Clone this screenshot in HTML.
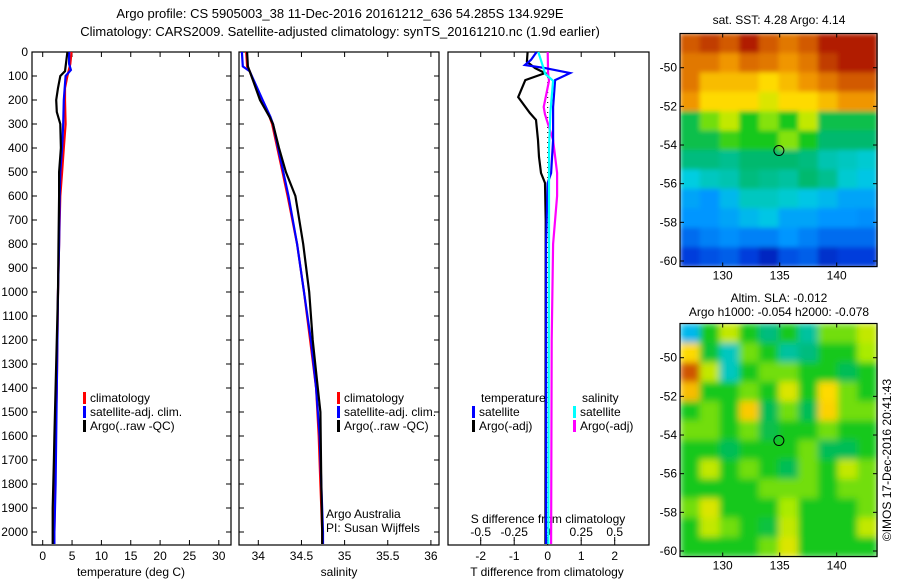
<!DOCTYPE html>
<html><head><meta charset="utf-8">
<style>
html,body{margin:0;padding:0;background:#fff;}
svg{display:block;font-family:"Liberation Sans",Arial,sans-serif;}
text{font-size:12px;fill:#000;}
</style></head>
<body>
<svg id="chart" width="900" height="580" viewBox="0 0 900 580" xmlns="http://www.w3.org/2000/svg">
<defs>
<filter id="blurSst" x="0" y="0" width="1" height="1"><feGaussianBlur stdDeviation="2.5" edgeMode="duplicate"/></filter>
<filter id="blurSla" x="0" y="0" width="1" height="1"><feGaussianBlur stdDeviation="3.5" edgeMode="duplicate"/></filter>
</defs>
<text x="340" y="18" text-anchor="middle" style="font-size:13px">Argo profile: CS 5905003_38 11-Dec-2016 20161212_636 54.285S 134.929E</text>
<text x="340" y="36" text-anchor="middle" style="font-size:13px">Climatology: CARS2009. Satellite-adjusted climatology: synTS_20161210.nc (1.9d earlier)</text>
<g id="layer"></g>
</svg>
<script>
// ---------- data ----------
const depthTicks=[0,100,200,300,400,500,600,700,800,900,1000,1100,1200,1300,1400,1500,1600,1700,1800,1900,2000];
const tempTicks=[0,5,10,15,20,25,30];
const salTicks=[34,34.5,35,35.5,36];
const tdiffTicks=[-2,-1,0,1,2];
const sdiffTicks=[-0.5,-0.25,0,0.25,0.5];
const sdiffTickLabels=["-0.5","-0.25","0","0.25","0.5"];
const lonTicks=[130,135,140];
const latTicks=[-50,-52,-54,-56,-58,-60];

const tClimDepth=[0,50,100,150,200,300,400,500,600,800,1000,1200,1400,1600,1800,2000,2050];
const tClim=[4.9,4.7,4.2,3.8,3.8,3.9,3.6,3.3,3.0,2.8,2.6,2.5,2.4,2.2,2.1,2.0,1.9];
const tSatDepth=[0,50,75,100,200,300,400,500,600,800,1000,1200,1400,1600,1800,2000,2050];
const tSat=[4.5,4.5,4.8,3.9,3.6,3.5,3.3,3.0,2.9,2.8,2.6,2.5,2.4,2.3,2.2,2.0,2.0];
const tArgoDepth=[0,80,100,150,200,250,300,400,500,600,800,1000,1200,1400,1600,1700,1800,1900,2000,2050];
const tArgo=[4.2,3.8,3.0,2.6,2.3,2.4,3.0,3.1,2.8,2.8,2.7,2.6,2.4,2.2,2.0,1.9,1.8,1.7,1.7,1.7];

const sClimDepth=[0,60,80,200,270,300,400,500,600,800,1000,1200,1400,1600,1800,2000,2050];
const sClim=[33.86,33.87,33.9,34.03,34.13,34.16,34.22,34.28,34.34,34.45,34.53,34.6,34.67,34.7,34.72,34.74,34.74];
const sSatDepth=[0,60,80,200,270,300,400,500,600,800,1000,1200,1400,1600,1800,2000,2050];
const sSat=[33.81,33.82,33.9,34.05,34.14,34.17,34.23,34.29,34.35,34.45,34.53,34.61,34.67,34.71,34.73,34.75,34.75];
const sArgoDepth=[0,60,80,200,270,300,400,500,600,800,1000,1200,1400,1500,1800,2000,2050];
const sArgo=[33.87,33.88,33.9,34.02,34.13,34.17,34.24,34.32,34.43,34.52,34.59,34.63,34.69,34.72,34.73,34.74,34.74];

const dTArgoDepth=[0,40,67,88,117,188,254,283,367,437,504,546,700,2050];
const dTArgo=[-0.6,-0.62,-0.38,-0.08,-0.67,-0.88,-0.53,-0.35,-0.29,-0.26,-0.2,-0.08,-0.06,-0.07];
const dTSatDepth=[0,33,54,67,88,117,229,367,504,546,800,2050];
const dTSat=[-0.33,-0.5,-0.68,-0.08,0.67,0.22,0.16,0.16,0.1,0,-0.05,-0.05];
const dSSatDepth=[0,70,90,120,250,400,800,2050];
const dSSat=[-0.07,-0.03,-0.02,0.04,0.02,0.01,0.01,0.005];
const dSArgoDepth=[0,88,120,229,260,367,504,600,800,1200,2050];
const dSArgo=[0,0.003,0.01,-0.03,-0.02,0.04,0.07,0.07,0.04,0.03,0.025];

// SST map (colour index 0..1), rows north->south, cols west->east
const sstGrid=[
[0.85,0.9,0.85,0.95,0.85,0.8,0.85,0.95,0.95,0.95],
[0.8,0.8,0.75,0.82,0.8,0.75,0.8,0.9,0.95,0.95],
[0.8,0.7,0.7,0.7,0.66,0.7,0.75,0.8,0.85,0.85],
[0.75,0.66,0.66,0.66,0.62,0.66,0.66,0.7,0.75,0.75],
[0.46,0.55,0.6,0.5,0.56,0.5,0.6,0.46,0.46,0.46],
[0.46,0.46,0.52,0.5,0.5,0.56,0.5,0.43,0.43,0.43],
[0.42,0.42,0.41,0.43,0.43,0.43,0.42,0.39,0.38,0.37],
[0.36,0.38,0.39,0.42,0.41,0.4,0.43,0.41,0.37,0.35],
[0.3,0.28,0.33,0.38,0.38,0.37,0.35,0.33,0.3,0.3],
[0.28,0.28,0.3,0.33,0.35,0.3,0.3,0.28,0.28,0.27],
[0.22,0.25,0.27,0.25,0.25,0.28,0.25,0.22,0.22,0.22],
[0.15,0.18,0.2,0.15,0.1,0.18,0.2,0.12,0.15,0.15]];
const slaGrid=[
[0.33,0.5,0.6,0.5,0.42,0.5,0.4,0.55,0.55,0.6],
[0.66,0.48,0.38,0.55,0.5,0.4,0.42,0.5,0.5,0.58],
[0.86,0.6,0.38,0.5,0.55,0.55,0.5,0.5,0.45,0.5],
[0.7,0.5,0.5,0.55,0.5,0.62,0.5,0.66,0.55,0.5],
[0.5,0.55,0.5,0.68,0.45,0.55,0.45,0.67,0.55,0.55],
[0.55,0.55,0.5,0.55,0.46,0.5,0.5,0.55,0.5,0.5],
[0.5,0.5,0.45,0.5,0.5,0.5,0.55,0.45,0.45,0.5],
[0.5,0.6,0.5,0.55,0.5,0.45,0.55,0.5,0.6,0.55],
[0.5,0.5,0.5,0.5,0.55,0.55,0.55,0.5,0.55,0.55],
[0.55,0.62,0.5,0.5,0.5,0.58,0.5,0.5,0.5,0.55],
[0.5,0.6,0.55,0.5,0.47,0.6,0.5,0.5,0.5,0.6],
[0.5,0.5,0.5,0.5,0.55,0.62,0.5,0.5,0.5,0.5]];
const floatLon=134.929, floatLat=-54.285;

// ---------- helpers ----------
const NS="http://www.w3.org/2000/svg";
const L=document.getElementById('layer');
function mk(tag,attrs,parent){const e=document.createElementNS(NS,tag);for(const k in attrs)e.setAttribute(k,attrs[k]);(parent||L).appendChild(e);return e;}
function txt(x,y,s,anchor,parent){const t=mk('text',{x:x,y:y,'text-anchor':anchor||'start'},parent);t.textContent=s;return t;}
const yD=d=>52+d*0.24;
const PB=545;
const xT=t=>42.7+t*5.87;
const xS=s=>258.3+(s-34)*86.3;
const xdT=t=>547.7+t*33.5;
const xdS=s=>547.7+s*134;
const xLon=l=>722.7+(l-130)*11.4;
const yLatTop=l=>67.7+(-50-l)*19.33;
const yLatBot=l=>357.7+(-50-l)*19.33;

function line(xs,ds,xf,color,name,w){
  const pts=xs.map((v,i)=>xf(v).toFixed(1)+','+yD(ds[i]).toFixed(1)).join(' ');
  const p=mk('polyline',{points:pts,fill:'none',stroke:color,'stroke-width':w||2.2,'stroke-linejoin':'miter'});
  
  
}
function frame(x0,x1,name){
  const r=mk('rect',{x:x0,y:52,width:x1-x0,height:PB-52,fill:'none',stroke:'#000','stroke-width':1.2});
  
  
}

// ---------- panel 1: temperature ----------
frame(32,231,'temperature-panel');
depthTicks.forEach(d=>{mk('line',{x1:32,x2:37,y1:yD(d),y2:yD(d),stroke:'#000'});mk('line',{x1:226,x2:231,y1:yD(d),y2:yD(d),stroke:'#000'});
  const t=txt(28,yD(d)+4,String(d),'end');});
tempTicks.forEach(v=>{mk('line',{x1:xT(v),x2:xT(v),y1:52,y2:57,stroke:'#000'});mk('line',{x1:xT(v),x2:xT(v),y1:PB,y2:PB-5,stroke:'#000'});
  const t=txt(xT(v),560,String(v),'middle');});
let tt=txt(131,576,'temperature (deg C)','middle');
line(tClim,tClimDepth,xT,'#f00','temp-climatology-line');
line(tSat,tSatDepth,xT,'#00f','temp-satellite-line');
line(tArgo,tArgoDepth,xT,'#000','temp-argo-line');

// ---------- panel 2: salinity ----------
frame(239,439,'salinity-panel');
depthTicks.forEach(d=>{mk('line',{x1:239,x2:244,y1:yD(d),y2:yD(d),stroke:'#000'});mk('line',{x1:434,x2:439,y1:yD(d),y2:yD(d),stroke:'#000'});});
salTicks.forEach(v=>{mk('line',{x1:xS(v),x2:xS(v),y1:52,y2:57,stroke:'#000'});mk('line',{x1:xS(v),x2:xS(v),y1:PB,y2:PB-5,stroke:'#000'});
  const t=txt(xS(v),560,String(v),'middle');});
tt=txt(339,576,'salinity','middle');
line(sClim,sClimDepth,xS,'#f00','sal-climatology-line');
line(sSat,sSatDepth,xS,'#00f','sal-satellite-line');
line(sArgo,sArgoDepth,xS,'#000','sal-argo-line');

// ---------- panel 3: differences ----------
frame(448,649,'difference-panel');
tdiffTicks.forEach(v=>{mk('line',{x1:xdT(v),x2:xdT(v),y1:52,y2:57,stroke:'#000'});mk('line',{x1:xdT(v),x2:xdT(v),y1:PB,y2:PB-5,stroke:'#000'});
  const t=txt(xdT(v),560,String(v),'middle');});
sdiffTicks.forEach((v,i)=>{mk('line',{x1:xdS(v),x2:xdS(v),y1:537,y2:541,stroke:'#000'});
  const t=txt(xdS(v),536,sdiffTickLabels[i],'middle');});
tt=txt(547,576,'T difference from climatology','middle');
tt=txt(548,523,'S difference from climatology','middle');
mk('line',{x1:xdT(0),x2:xdT(0),y1:52,y2:PB,stroke:'#000','stroke-width':1,'stroke-dasharray':'1,4'});
line(dTArgo,dTArgoDepth,xdT,'#000','tdiff-argo-line');
line(dSArgo,dSArgoDepth,xdS,'#f0f','sdiff-argo-line');
line(dTSat,dTSatDepth,xdT,'#00f','tdiff-satellite-line');
line(dSSat,dSSatDepth,xdS,'#0ff','sdiff-satellite-line');

// ---------- legends ----------
function legend(x,y,color,label,name){
  const g=mk('g',{});
  mk('rect',{x:x,y:y-10,width:3,height:12,fill:color},g);txt(x+7,y,label,'start',g);
}
legend(83,402,'#f00','climatology','legend-climatology');
legend(83,416,'#00f','satellite-adj. clim.','legend-satellite-adj');
legend(83,430,'#000','Argo(..raw -QC)','legend-argo');
legend(337,402,'#f00','climatology','legend-sal-climatology');
legend(337,416,'#00f','satellite-adj. clim.','legend-sal-satellite-adj');
legend(337,430,'#000','Argo(..raw -QC)','legend-sal-argo');
tt=txt(481,402,'temperature');
tt=txt(582,402,'salinity');
legend(472,416,'#00f','satellite','legend-tdiff-satellite');
legend(472,430,'#000','Argo(-adj)','legend-tdiff-argo');
legend(573,416,'#0ff','satellite','legend-sdiff-satellite');
legend(573,430,'#f0f','Argo(-adj)','legend-sdiff-argo');
tt=txt(326,518,'Argo Australia');
tt=txt(326,532,'PI: Susan Wijffels');

// ---------- maps ----------
const stops=[[0,[0,0,140]],[0.15,[0,60,220]],[0.28,[0,150,255]],[0.36,[0,205,225]],[0.43,[0,185,110]],[0.5,[20,200,30]],[0.58,[170,235,0]],[0.65,[255,225,0]],[0.75,[240,150,0]],[0.85,[210,90,0]],[1,[160,0,0]]];
function cmap(v){for(let i=1;i<stops.length;i++){if(v<=stops[i][0]){const a=stops[i-1],b=stops[i],f=(v-a[0])/(b[0]-a[0]);
  const c=a[1].map((x,k)=>Math.round(x+(b[1][k]-x)*f));return 'rgb('+c.join(',')+')';}}return 'rgb(160,0,0)';}
function drawMap(grid,y0,name,yLat,circleName,filt){
  const x0=680,x1=877,y1=y0+233;
  const g=mk('g',{filter:'url(#'+filt+')'});
  const rows=grid.length,cols=grid[0].length,cw=(x1-x0)/cols,ch=(y1-y0)/rows;
  grid.forEach((row,r)=>row.forEach((v,c)=>{
    const cell=mk('rect',{x:(x0+c*cw).toFixed(2),y:(y0+r*ch).toFixed(2),width:(cw+0.6).toFixed(2),height:(ch+0.6).toFixed(2),fill:cmap(v)},g);
    
    
  }));
  mk('rect',{x:x0,y:y0,width:x1-x0,height:y1-y0,fill:'none',stroke:'#000','stroke-width':1.2});
  lonTicks.forEach(l=>{mk('line',{x1:xLon(l),x2:xLon(l),y1:y0,y2:y0+4,stroke:'#000'});mk('line',{x1:xLon(l),x2:xLon(l),y1:y1,y2:y1-4,stroke:'#000'});
    const t=txt(xLon(l),y1+13,String(l),'middle');});
  latTicks.forEach(l=>{const y=yLat(l);mk('line',{x1:x0,x2:x0+4,y1:y,y2:y,stroke:'#000'});mk('line',{x1:x1,x2:x1-4,y1:y,y2:y,stroke:'#000'});
    const t=txt(x0-3,y+4,String(l),'end');});
  const c=mk('circle',{cx:xLon(floatLon),cy:yLat(floatLat),r:5,fill:'none',stroke:'#000','stroke-width':1});
  
  
}
drawMap(sstGrid,33.5,'sst-map',yLatTop,'float-position-sst','blurSst');
drawMap(slaGrid,323.5,'sla-map',yLatBot,'float-position-sla','blurSla');
tt=txt(779,24,'sat. SST: 4.28 Argo: 4.14','middle');
tt=txt(779,302,'Altim. SLA: -0.012','middle');
tt=txt(779,316,'Argo h1000: -0.054 h2000: -0.078','middle');
tt=txt(0,0,'©IMOS 17-Dec-2016 20:41:43','middle');tt.setAttribute('transform','translate(891,460) rotate(-90)');

</script>
</body></html>
